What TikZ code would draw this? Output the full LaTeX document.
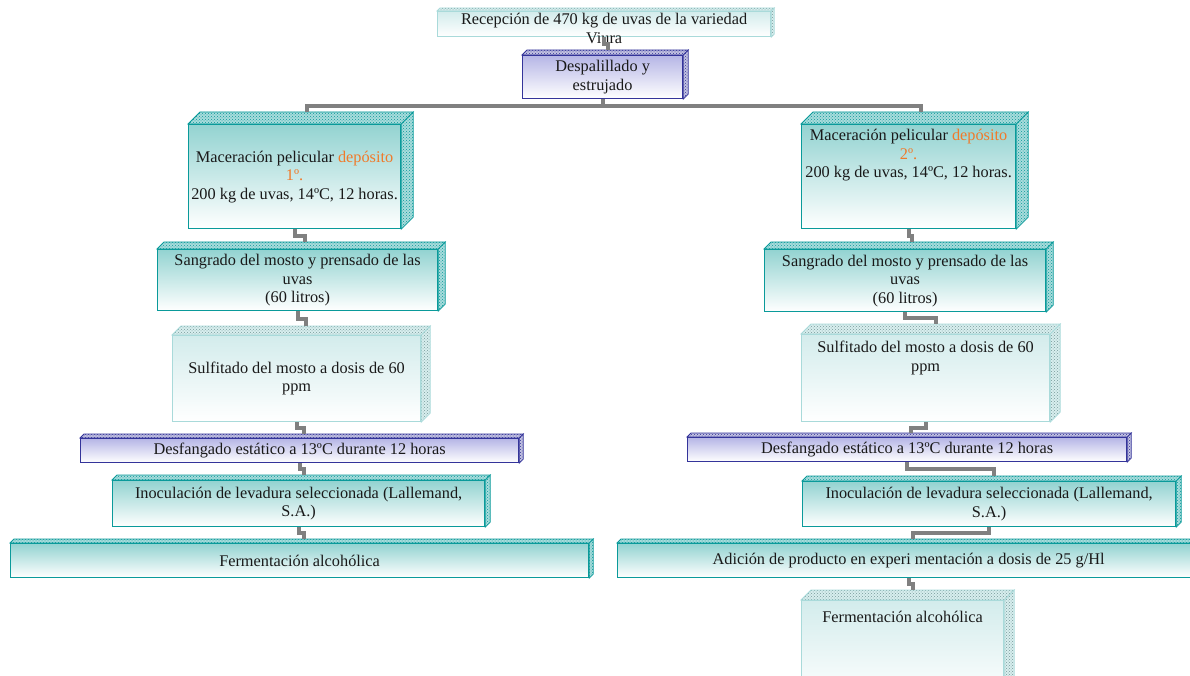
\documentclass[tikz,border=0pt]{standalone}
\usepackage{fontspec}
\setmainfont{Liberation Serif}
\usetikzlibrary{calc,patterns}

\definecolor{verde}{HTML}{0A9A9A}
\definecolor{verdeclaro}{HTML}{93D3D1}
\definecolor{morado}{HTML}{34349A}
\definecolor{moradoclaro}{HTML}{B6B6E6}
\definecolor{palido}{HTML}{A9DADA}
\definecolor{palidoclaro}{HTML}{D3ECEC}
\definecolor{naranja}{HTML}{F07A2A}
\definecolor{gris}{HTML}{808080}

% text held at the top of a box
\newcommand\arriba[4]{\parbox[c][#1][t]{#2}{\centering\vspace*{#3}\strut #4}}

\begin{document}
\begin{tikzpicture}[
     x = 1pt, y = -1pt,
     font = \fontsize{16.3}{18.5}\selectfont,
     caja/.style n args = {5}{draw=#2, line width=1.2pt, top color=#3, bottom color=white,
       inner sep=0pt, anchor=north west, align=center, text=black!90,
       append after command={
         \pgfextra{
           \draw[draw=#2, line width=0.8pt, preaction={fill=#5}, pattern=crosshatch dots, pattern color=#4]
             (\tikzlastnode.north west) -- ++(#1,-#1) -- ($(\tikzlastnode.north east)+(#1,-#1)$)
             -- (\tikzlastnode.north east) -- cycle
             (\tikzlastnode.north east) -- ++(#1,-#1) -- ($(\tikzlastnode.south east)+(#1,-#1)$)
             -- (\tikzlastnode.south east) -- cycle;
         }
         ($(\tikzlastnode.north)+(#1,-#1)$) coordinate (\tikzlastnode-top)
       }},
     verdebox/.style = {caja={#1}{verde}{verdeclaro}{verde}{verde!35}},
     moradobox/.style = {caja={#1}{morado}{moradoclaro}{morado}{morado!30}},
     palidobox/.style = {caja={#1}{palido}{palidoclaro}{palido!70!black}{palido!45}},
     medida/.style 2 args = {minimum width=#1pt, minimum height=#2pt},
     enlace/.style = {draw=gris, line width=4pt,
       to path={|- ($(\tikztostart)!0.5!(\tikztotarget)$) -| (\tikztotarget)}}
    ]
    \useasboundingbox (0,0) rectangle (1190,676);
    \clip (0,0) rectangle (1190,676);

    % common trunk
    \node[palidobox=3] (recepcion) at (437,11)
      {\arriba{25pt}{333pt}{0pt}{Recepción de 470 kg de uvas de la variedad\\Viura}};
    \node[moradobox=5, medida={160}{43}] (despalillado) at (522,55) {Despalillado y\\estrujado};

    % depósito 1
    \node[verdebox=12, medida={212}{104}] (maceracion1) at (188,124)
      {Maceración pelicular \textcolor{naranja}{depósito}\\\textcolor{naranja}{1º.}\\200 kg de uvas, 14ºC, 12 horas.};
    \node[verdebox=7, medida={280}{61}] (sangrado1) at (157,249)
      {Sangrado del mosto y prensado de las\\uvas\\(60 litros)};
    \node[palidobox=9, medida={248}{86}] (sulfitado1) at (172,335)
      {Sulfitado del mosto a dosis de 60\\ppm};
    \node[moradobox=4, medida={438}{24}] (desfangado1) at (80,438)
      {Desfangado estático a 13ºC durante 12 horas};
    \node[verdebox=5, medida={372}{46}] (inoculacion1) at (112,480)
      {Inoculación de levadura seleccionada (Lallemand,\\S.A.)};
    \node[verdebox=4, medida={578}{34}] (fermentacion1) at (10,543) {Fermentación alcohólica};

    % depósito 2
    \node[verdebox=12] (maceracion2) at (801,124)
      {\arriba{104pt}{214pt}{3pt}{Maceración pelicular \textcolor{naranja}{depósito}\\\textcolor{naranja}{2º.}\\200 kg de uvas, 14ºC, 12 horas.}};
    \node[verdebox=7, medida={281}{62}] (sangrado2) at (764,249)
      {Sangrado del mosto y prensado de las\\uvas\\(60 litros)};
    \node[palidobox=10] (sulfitado2) at (801,334)
      {\arriba{87pt}{248pt}{5pt}{Sulfitado del mosto a dosis de 60\\ppm}};
    \node[moradobox=4, medida={439}{24}] (desfangado2) at (687,437)
      {Desfangado estático a 13ºC durante 12 horas};
    \node[verdebox=5, medida={373}{45}] (inoculacion2) at (802,481)
      {Inoculación de levadura seleccionada (Lallemand,\\S.A.)};
    \node[verdebox=4, medida={582}{34}] (adicion) at (617,543)
      {Adición de producto en experi mentación a dosis de 25 g/Hl};
    \node[palidobox=10] (fermentacion2) at (801,600)
      {\arriba{100pt}{202pt}{9pt}{Fermentación alcohólica}};

    % connectors
    \draw[enlace] (recepcion.south) to (despalillado-top);
    \draw[enlace] (despalillado.south) to (maceracion1-top);
    \draw[enlace] (despalillado.south) to (maceracion2-top);
    \draw[enlace] (maceracion1.south) to (sangrado1-top);
    \draw[enlace] (sangrado1.south) to (sulfitado1-top);
    \draw[enlace] (sulfitado1.south) to (desfangado1-top);
    \draw[enlace] (desfangado1.south) to (inoculacion1-top);
    \draw[enlace] (inoculacion1.south) to (fermentacion1-top);
    \draw[enlace] (maceracion2.south) to (sangrado2-top);
    \draw[enlace] (sangrado2.south) to (sulfitado2-top);
    \draw[enlace] (sulfitado2.south) to (desfangado2-top);
    \draw[enlace] (desfangado2.south) to (inoculacion2-top);
    \draw[enlace] (inoculacion2.south) to (adicion-top);
    \draw[enlace] (adicion.south) to (fermentacion2-top);
\end{tikzpicture}
\end{document}
